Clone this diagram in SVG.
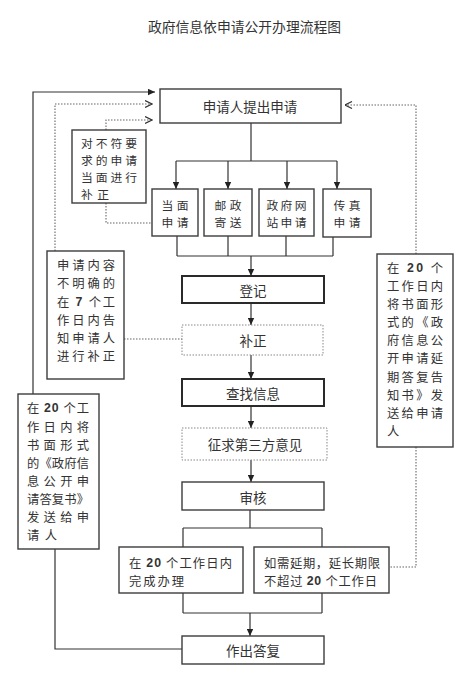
<svg xmlns="http://www.w3.org/2000/svg" width="475" height="685" viewBox="0 0 475 685">
<style>
.b{fill:#fff;stroke:#3c3c3c;stroke-width:1.4}
.bk{fill:#fff;stroke:#2a2a2a;stroke-width:2}
.bd{fill:#fff;stroke:#888;stroke-width:1;stroke-dasharray:1.5 1.5}
.l{fill:none;stroke:#333;stroke-width:1.2}
.d{fill:none;stroke:#666;stroke-width:1.1;stroke-dasharray:1.5 1.5}
text{font-family:"Noto Sans CJK SC",sans-serif;font-size:13.5px;fill:#333;dominant-baseline:central}
.c{text-anchor:middle}
.s{font-size:11.8px}
.m{font-size:12.3px}
.n{font-family:"Liberation Sans","Noto Sans CJK SC",sans-serif;font-weight:bold}
</style>
<defs>
<marker id="a" viewBox="0 0 7 7" refX="7" refY="3.5" markerWidth="7" markerHeight="7" markerUnits="userSpaceOnUse" orient="auto"><path d="M0,0.3 L7,3.5 L0,6.7 z" fill="#222"/></marker>
<marker id="o" viewBox="0 0 8 8" refX="7.5" refY="4" markerWidth="8" markerHeight="8" markerUnits="userSpaceOnUse" orient="auto"><path d="M0.5,0.5 L7.5,4 L0.5,7.5" fill="none" stroke="#333" stroke-width="1.2"/></marker>
</defs>
<text x="244.5" y="26" class="c" style="font-size:13.8px">政府信息依申请公开办理流程图</text>

<g id="connectors">
<path class="l" d="M251,123 V161 M176,161 H337"/>
<path class="l" d="M176,161 V189" marker-end="url(#a)"/>
<path class="l" d="M228,161 V189" marker-end="url(#a)"/>
<path class="l" d="M287,161 V189" marker-end="url(#a)"/>
<path class="l" d="M337,161 V189" marker-end="url(#a)"/>
<path class="l" d="M177,236 V256 M228,236 V256 M286,236 V256 M333,237 V256 M177,256 H333"/>
<path class="l" d="M251,256 V276" marker-end="url(#a)"/>
<path class="l" d="M251,303 V325" marker-end="url(#a)"/>
<path class="l" d="M251,355 V379" marker-end="url(#a)"/>
<path class="l" d="M251,406 V428" marker-end="url(#a)"/>
<path class="l" d="M251,460 V482" marker-end="url(#a)"/>
<path class="l" d="M250,510 V528 M183,528 H322 M183,528 V547 M322,528 V547"/>
<path class="l" d="M183,593 V613 M322,593 V613 M183,613 H322"/>
<path class="l" d="M250,613 V636" marker-end="url(#a)"/>
<path class="l" d="M55,549 V649 H182"/>
<path class="l" d="M33,394 V92 H155" marker-end="url(#a)"/>
<path class="d" d="M55,251 V104 H152" marker-end="url(#o)"/>
<path class="d" d="M106,130 V120 H152" marker-end="url(#o)"/>
<path class="d" d="M106,203 V223 H152"/>
<path class="d" d="M124,339 H182"/>
<path class="d" d="M416,254 V105 H345" marker-end="url(#o)"/>
<path class="d" d="M416,447 V567 H389"/>
</g>

<g id="n-apply">
<rect class="b" x="160" y="89" width="181" height="34"/>
<text x="250" y="106" class="c">申请人提出申请</text>
</g>

<g id="n-face-fix">
<rect class="b" x="72" y="130" width="74" height="73"/>
<text x="81" y="142" class="s" textLength="56" lengthAdjust="spacing">对不符要</text>
<text x="81" y="159" class="s" textLength="56" lengthAdjust="spacing">求的申请</text>
<text x="81" y="176" class="s" textLength="56" lengthAdjust="spacing">当面进行</text>
<text x="81" y="193" class="s" textLength="28" lengthAdjust="spacing">补正</text>
</g>

<g id="n-face">
<rect class="b" x="152" y="189" width="46" height="47"/>
<text x="175" y="204" class="c s" textLength="27" lengthAdjust="spacing">当面</text>
<text x="175" y="221" class="c s" textLength="27" lengthAdjust="spacing">申请</text>
</g>
<g id="n-post">
<rect class="b" x="204" y="189" width="48" height="47"/>
<text x="228" y="204" class="c s" textLength="27" lengthAdjust="spacing">邮政</text>
<text x="228" y="221" class="c s" textLength="27" lengthAdjust="spacing">寄送</text>
</g>
<g id="n-web">
<rect class="b" x="259" y="189" width="55" height="47"/>
<text x="286.5" y="204" class="c s" textLength="40" lengthAdjust="spacing">政府网</text>
<text x="286.5" y="221" class="c s" textLength="40" lengthAdjust="spacing">站申请</text>
</g>
<g id="n-fax">
<rect class="b" x="323" y="189" width="48" height="48"/>
<text x="347" y="204" class="c s" textLength="27" lengthAdjust="spacing">传真</text>
<text x="347" y="221" class="c s" textLength="27" lengthAdjust="spacing">申请</text>
</g>

<g id="n-unclear">
<rect class="b" x="47" y="251" width="77" height="128"/>
<text x="57" y="265" class="m" textLength="58" lengthAdjust="spacing">申请内容</text>
<text x="57" y="283" class="m" textLength="58" lengthAdjust="spacing">不明确的</text>
<text x="57" y="302" class="m" textLength="58" lengthAdjust="spacing">在 <tspan class="n">7</tspan> 个工</text>
<text x="57" y="320" class="m" textLength="58" lengthAdjust="spacing">作日内告</text>
<text x="57" y="338" class="m" textLength="58" lengthAdjust="spacing">知申请人</text>
<text x="57" y="356" class="m" textLength="58" lengthAdjust="spacing">进行补正</text>
</g>

<g id="n-register">
<rect class="bk" x="182" y="276" width="142" height="27"/>
<text x="253" y="290" class="c">登记</text>
</g>
<g id="n-fix">
<rect class="bd" x="182" y="325" width="141" height="30"/>
<text x="253" y="340" class="c">补正</text>
</g>
<g id="n-search">
<rect class="bk" x="182" y="379" width="142" height="27"/>
<text x="253" y="393" class="c">查找信息</text>
</g>
<g id="n-third">
<rect class="bd" x="182" y="428" width="145" height="32"/>
<text x="255" y="444" class="c">征求第三方意见</text>
</g>
<g id="n-review">
<rect class="b" x="182" y="482" width="142" height="28"/>
<text x="253" y="497" class="c">审核</text>
</g>

<g id="n-reply-letter">
<rect class="b" x="18" y="394" width="81" height="155"/>
<text x="27" y="408" class="m" textLength="62" lengthAdjust="spacing">在 <tspan class="n">20</tspan> 个工</text>
<text x="27" y="427" class="m" textLength="62" lengthAdjust="spacing">作日内将</text>
<text x="27" y="445" class="m" textLength="62" lengthAdjust="spacing">书面形式</text>
<text x="27" y="463" class="m" textLength="62" lengthAdjust="spacing">的《政府信</text>
<text x="27" y="481" class="m" textLength="62" lengthAdjust="spacing">息公开申</text>
<text x="27" y="499" class="m" textLength="62" lengthAdjust="spacing">请答复书》</text>
<text x="27" y="517" class="m" textLength="62" lengthAdjust="spacing">发送给申</text>
<text x="27" y="535" class="m" textLength="30" lengthAdjust="spacing">请人</text>
</g>

<g id="n-extend-letter">
<rect class="b" x="377" y="254" width="76" height="193"/>
<text x="387" y="268" class="m" textLength="56" lengthAdjust="spacing">在 <tspan class="n">20</tspan> 个</text>
<text x="387" y="286" class="m" textLength="56" lengthAdjust="spacing">工作日内</text>
<text x="387" y="304" class="m" textLength="56" lengthAdjust="spacing">将书面形</text>
<text x="387" y="322" class="m" textLength="56" lengthAdjust="spacing">式的《政</text>
<text x="387" y="340" class="m" textLength="56" lengthAdjust="spacing">府信息公</text>
<text x="387" y="358" class="m" textLength="56" lengthAdjust="spacing">开申请延</text>
<text x="387" y="377" class="m" textLength="56" lengthAdjust="spacing">期答复告</text>
<text x="387" y="395" class="m" textLength="56" lengthAdjust="spacing">知书》发</text>
<text x="387" y="413" class="m" textLength="56" lengthAdjust="spacing">送给申请</text>
<text x="387" y="431" class="m">人</text>
</g>

<g id="n-20days">
<rect class="b" x="119" y="547" width="124" height="46"/>
<text x="129" y="563" class="m" textLength="103" lengthAdjust="spacing">在 <tspan class="n">20</tspan> 个工作日内</text>
<text x="129" y="581" class="m" textLength="55" lengthAdjust="spacing">完成办理</text>
</g>
<g id="n-extend">
<rect class="b" x="254" y="547" width="135" height="46"/>
<text x="264" y="563" class="m" textLength="116" lengthAdjust="spacing">如需延期，延长期限</text>
<text x="264" y="581" class="m" textLength="113" lengthAdjust="spacing">不超过 <tspan class="n">20</tspan> 个工作日</text>
</g>

<g id="n-answer">
<rect class="b" x="182" y="636" width="142" height="28"/>
<text x="253" y="650" class="c">作出答复</text>
</g>
</svg>
